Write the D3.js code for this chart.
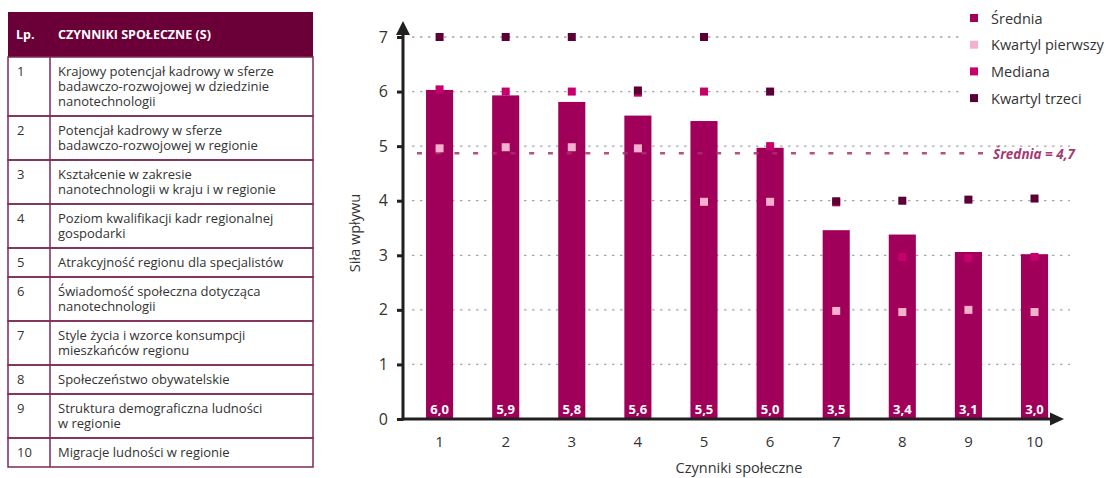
<!DOCTYPE html>
<html><head><meta charset="utf-8">
<script src="https://cdn.jsdelivr.net/npm/d3@7/dist/d3.min.js"></script>
<style>body{margin:0;background:#fff}svg{display:block;font-family:"Open Sans",sans-serif}</style>
</head><body><svg id="c" width="1120" height="478"></svg>
<script>
const categories = ["1","2","3","4","5","6","7","8","9","10"];
const tableRows = [
  "Krajowy potencjał kadrowy w sferze\nbadawczo-rozwojowej w dziedzinie\nnanotechnologii",
  "Potencjał kadrowy w sferze\nbadawczo-rozwojowej w regionie",
  "Kształcenie w zakresie\nnanotechnologii w kraju i w regionie",
  "Poziom kwalifikacji kadr regionalnej\ngospodarki",
  "Atrakcyjność regionu dla specjalistów",
  "Świadomość społeczna dotycząca\nnanotechnologii",
  "Style życia i wzorce konsumpcji\nmieszkańców regionu",
  "Społeczeństwo obywatelskie",
  "Struktura demograficzna ludności\nw regionie",
  "Migracje ludności w regionie"
];
const meanValues = [6.03, 5.93, 5.81, 5.56, 5.46, 4.97, 3.46, 3.38, 3.06, 3.02];
const meanLabels = ["6,0","5,9","5,8","5,6","5,5","5,0","3,5","3,4","3,1","3,0"];
const q1Values = [4.96, 4.98, 4.98, 4.96, 3.98, 3.98, 1.98, 1.96, 2.0, 1.96];
const medianValues = [6.04, 6.0, 6.0, 5.98, 6.0, 5.0, 3.97, 2.97, 2.95, 2.97];
const q3Values = [7, 7, 7, 6.02, 7, 6, 3.99, 4.0, 4.02, 4.04];
const overallMean = 4.87;
const overallMeanLabel = "Średnia = 4,7";
const yTicks = [0,1,2,3,4,5,6,7];
const legendItems = ["Średnia","Kwartyl pierwszy","Mediana","Kwartyl trzeci"];
const tableHeader = ["Lp.","CZYNNIKI SPOŁECZNE (S)"];

const colors = {mean:"#a0005a", q1:"#f4b0cd", median:"#c8006e", q3:"#5a0036"};
const svg = d3.select("#c");

// ---------- table ----------
const T = {x0:8, x1:313, xd:50, top:12, headH:45};
const tb = svg.append("g");
tb.append("rect").attr("x",T.x0).attr("y",T.top).attr("width",T.x1-T.x0).attr("height",T.headH).attr("fill","#6b0038");
tb.append("text").attr("x",16).attr("y",T.top+27).attr("fill","#fff").attr("font-weight","bold").attr("font-size",12.5).text(tableHeader[0]);
tb.append("text").attr("x",58).attr("y",T.top+27).attr("fill","#fff").attr("font-weight","bold").attr("font-size",12.5).text(tableHeader[1]);
let yy = T.top + T.headH;
const borderC = "#7d2a55";
tableRows.forEach((r,i)=>{
  const lines = r.split("\n");
  const h = 14 + 15*lines.length;
  tb.append("rect").attr("x",T.x0).attr("y",yy).attr("width",T.x1-T.x0).attr("height",h)
    .attr("fill","none").attr("stroke",borderC).attr("stroke-width",1.5);
  tb.append("line").attr("x1",T.xd).attr("x2",T.xd).attr("y1",yy).attr("y2",yy+h).attr("stroke",borderC).attr("stroke-width",1.5);
  tb.append("text").attr("x",17).attr("y",yy+18.5).attr("font-size",13).attr("fill","#333").text(categories[i]);
  const t = tb.append("text").attr("y",yy+18.5).attr("font-size",13).attr("fill","#333");
  lines.forEach((l,j)=>{
    t.append("tspan").attr("x",58).attr("dy",j===0?0:15).text(l);
  });
  yy += h;
});

// ---------- chart ----------
const x = d3.scaleBand().domain(categories).range([406.2,1067.9]).paddingInner(0.59).paddingOuter(0.3);
const y = d3.scaleLinear().domain([0,7]).range([419,37]);
const axX = 403;

// grid
svg.append("g").selectAll("line").data(yTicks.filter(d=>d>0)).join("line")
  .attr("x1",412).attr("x2",1070).attr("y1",d=>y(d)).attr("y2",d=>y(d))
  .attr("stroke","#a6a6a6").attr("stroke-width",1.3).attr("stroke-dasharray","2.5,5.5");

// bars
svg.append("g").selectAll("rect").data(categories).join("rect")
  .attr("x",d=>x(d)).attr("width",x.bandwidth())
  .attr("y",(d,i)=>y(meanValues[i])).attr("height",(d,i)=>y(0)-y(meanValues[i]))
  .attr("fill",colors.mean);

// overall mean line
svg.append("line").attr("x1",417).attr("x2",988).attr("y1",y(overallMean)).attr("y2",y(overallMean))
  .attr("stroke","#a8306e").attr("stroke-opacity",0.85).attr("stroke-width",2.5).attr("stroke-dasharray","5,13.7");
svg.append("text").attr("x",993).attr("y",y(overallMean)+5.5).attr("font-size",13.5).attr("font-weight","bold")
  .attr("font-style","italic").attr("fill","#a23a73").text(overallMeanLabel);

// markers
const ms = 8;
function markers(vals,col){
  svg.append("g").selectAll("rect").data(categories).join("rect")
    .attr("x",d=>x(d)+x.bandwidth()/2-ms/2).attr("y",(d,i)=>y(vals[i])-ms/2)
    .attr("width",ms).attr("height",ms).attr("fill",col);
}
markers(q1Values,colors.q1);
markers(medianValues,colors.median);
markers(q3Values,colors.q3);

// bar labels
svg.append("g").selectAll("text").data(categories).join("text")
  .attr("x",d=>x(d)+x.bandwidth()/2).attr("y",414).attr("text-anchor","middle")
  .attr("fill","#fff").attr("font-weight","bold").attr("font-size",13).text((d,i)=>meanLabels[i]);

// axes
const axC = "#231f20";
svg.append("line").attr("x1",axX).attr("x2",axX).attr("y1",y(0)+1.5).attr("y2",34).attr("stroke",axC).attr("stroke-width",3);
svg.append("path").attr("d",`M${axX-7},35 L${axX},21 L${axX+7},35 Z`).attr("fill",axC);
svg.append("line").attr("x1",axX-1.5).attr("x2",1052).attr("y1",y(0)).attr("y2",y(0)).attr("stroke",axC).attr("stroke-width",3);
svg.append("path").attr("d",`M1050,${y(0)-6.5} L1064,${y(0)} L1050,${y(0)+6.5} Z`).attr("fill",axC);

const yAxis = d3.axisLeft(y).tickValues(yTicks).tickSize(6).tickFormat(d3.format("d"));
const gy = svg.append("g").attr("transform",`translate(${axX},0)`).call(yAxis);
gy.select(".domain").remove();
gy.selectAll(".tick line").attr("stroke",axC).attr("stroke-width",3);
gy.selectAll(".tick text").attr("font-size",16).attr("fill","#333").attr("font-family","Open Sans").attr("x",-15);

const xAxis = d3.axisBottom(x).tickSize(0);
const gx = svg.append("g").attr("transform",`translate(0,${y(0)})`).call(xAxis);
gx.select(".domain").remove();
gx.selectAll(".tick text").attr("font-size",15).attr("fill","#333").attr("font-family","Open Sans").attr("dy",0).attr("y",28);

svg.append("text").attr("x",739).attr("y",473).attr("text-anchor","middle").attr("font-size",14.5).attr("fill","#333").text("Czynniki społeczne");
svg.append("text").attr("transform","translate(360,233) rotate(-90)").attr("text-anchor","middle").attr("font-size",14.5).attr("fill","#333").text("Siła wpływu");

// legend
svg.append("rect").attr("x",961).attr("y",0).attr("width",159).attr("height",110).attr("fill","#fff");
const legColors = [colors.mean,colors.q1,colors.median,colors.q3];
const lg = svg.append("g").selectAll("g").data(legendItems).join("g")
  .attr("transform",(d,i)=>`translate(970,${18+26.7*i})`);
lg.append("rect").attr("x",0).attr("y",-4).attr("width",8).attr("height",8).attr("fill",(d,i)=>legColors[i]);
lg.append("text").attr("x",21).attr("y",5.5).attr("font-size",14.5).attr("fill","#333").text(d=>d);
</script></body></html>
